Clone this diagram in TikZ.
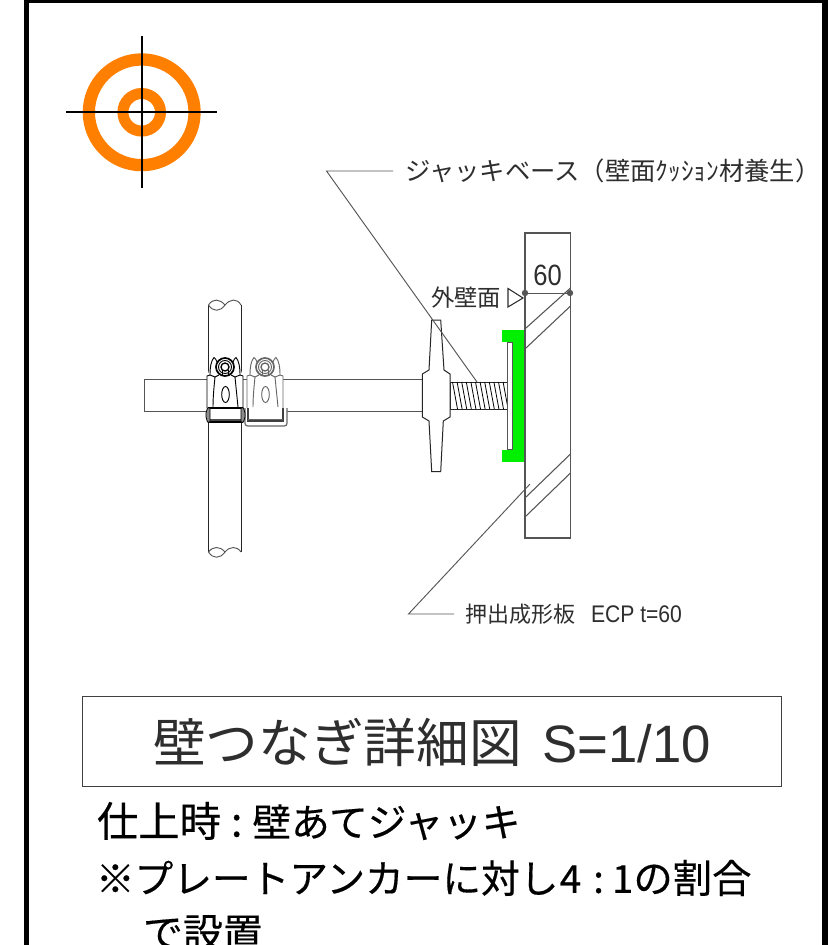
\documentclass[tikz,border=0pt]{standalone}
\usepackage{fontspec}
\setmainfont{Liberation Sans}
\newfontfamily\jpfont{Noto Sans CJK JP}
\newfontfamily\jpnote[FakeBold=0.35]{Noto Sans CJK JP}
\newcommand{\pxf}[1]{\fontsize{#1}{#1}\selectfont}
\definecolor{inkgray}{HTML}{2E2E2E}
\definecolor{linegray}{HTML}{555555}
\definecolor{ringorange}{HTML}{FF8000}
\definecolor{capgreen}{HTML}{00F000}
\tikzset{
  lbl/.style={inner sep=0pt,outer sep=0pt,anchor=west,text=inkgray,transform shape},
  thin line/.style={draw=linegray,line width=.7pt},
  body line/.style={draw=black!85,line width=.75pt},
  wall line/.style={draw=linegray,line width=.8pt},
  clampa/.pic={
    \path[fill=white] (-18,10) -- (-18,41) -- (18,41) -- (18,10) -- (12,-9) -- (-12,-9) -- cycle;
    \draw[#1] (-18,41) -- (-18,9) -- (-15,8) .. controls (-15,0) and (-14,-6) .. (-11,-9.5) .. controls (-9.5,-9) and (-9,-7) .. (-8,-5);
    \draw[#1] (18,41) -- (18,9) -- (15,8) .. controls (15,0) and (14,-6) .. (11,-9.5) .. controls (9.5,-9) and (9,-7) .. (8,-5);
    \draw[#1] (-10,10) .. controls (-11,20) and (-12,30) .. (-12,40);
    \draw[#1] (10,10) .. controls (11,20) and (12,30) .. (13,40);
    \draw[#1] (-15,8) -- (-10,10) -- (-6,8) (15,8) -- (10,10) -- (6,8);
    \draw[#1,line width=1.3pt] (0,0) circle (9);
    \draw[#1] (0,0) circle (6.5);
    \draw[#1,line width=1pt] (0,0) circle (4);
    \draw[#1] (-3,3) -- (-3,9) (3,3) -- (3,9);
    \draw[#1] (0.5,27.5) ellipse (3.8 and 8);
  }
}
\begin{document}
\begin{tikzpicture}[x=.75pt,y=-.75pt]
\useasboundingbox (0,0) rectangle (828,945);
\fill[white] (0,0) rectangle (828,945);
% outer frame
\fill[black] (24,0) rectangle (29,945);
\fill[black] (822,0) rectangle (828,945);
\fill[black] (24,0) rectangle (828,3);
% target
\draw[ringorange,line width=9.2pt] (141.7,112.3) circle (52.85);
\draw[ringorange,line width=8.25pt] (141.7,112.3) circle (18.8);
\draw[black,line width=1.5pt] (66,112.3) -- (217,112.3);
\draw[black,line width=1.5pt] (141.7,36) -- (141.7,188);
% vertical pipe
\draw[body line] (208.5,305) -- (208.5,552);
\draw[body line] (241,305) -- (241,552);
\draw[thin line] (208.5,305) .. controls (213,298) and (220,299) .. (225,305) .. controls (230,299) and (237,298) .. (241,305);
\draw[thin line] (208.5,305) .. controls (213,312) and (220,312) .. (225,305);
\draw[thin line] (208.5,552) .. controls (213,546) and (220,546) .. (225,552) .. controls (230,546) and (237,546) .. (241,552);
\draw[thin line] (208.5,552) .. controls (213,559) and (220,559) .. (225,552);
% horizontal pipe
\draw[wall line] (422,379.5) -- (144.3,379.5) -- (144.3,411.7) -- (422,411.7);
% clamps
\pic at (225,367) {clampa={draw=black,line width=.7pt}};
\pic at (265,367) {clampa={draw=black!60,line width=.7pt}};
\draw[black!60,line width=.9pt,rounded corners=2pt,fill=white] (245,408) -- (245,426) -- (287,426) -- (287,408);
\draw[black!75,line width=.9pt,fill=white] (248,408) -- (248,421) -- (283,421) -- (283,408);
\draw[black!60,line width=1.1pt] (248,419.5) -- (283,419.5);
\draw[black,line width=.8pt,fill=white] (209,408) rectangle (242,422);
\draw[black!70,line width=1.1pt] (209,420) -- (242,420);
\draw[black,line width=.6pt,fill=black!45] (206,413) -- (207.5,408) -- (210,408) -- (210,422) -- (207.5,422) -- (206,417) -- cycle;
\draw[black,line width=.6pt,fill=black!45] (245,413) -- (243.5,408) -- (241,408) -- (241,422) -- (243.5,422) -- (245,417) -- cycle;
% screw
\draw[body line,fill=white] (450,382) rectangle (507,409);
\foreach \i in {0,...,11}{
  \draw[black,line width=.6pt] ({452.5+\i*4.6},382) -- ({457.5+\i*4.6},409);
}
% jack base plate
\fill[capgreen] (501.7,330) rectangle (524.5,341.5);
\fill[capgreen] (501.7,450) rectangle (524.5,461.5);
\fill[capgreen] (512.3,330) rectangle (524.5,461.5);
\draw[linegray,line width=.6pt,fill=white] (507.4,342.7) rectangle (512.3,449.3);
% jack handle
\draw[body line,fill=white] (431.7,320) -- (440.7,320) -- (444,370) -- (450,374) -- (450,417) -- (443.3,421) -- (440.7,471.7) -- (431.7,471.7) -- (429,421) -- (422.3,417) -- (422.3,374) -- (429,370) -- cycle;
% wall
\draw[wall line] (525,233) rectangle (570.5,538);
\draw[linegray,line width=1.5pt] (525,275) -- (525,505);
\draw[wall line] (526,328) -- (570.5,288);
\draw[wall line] (526,348) -- (570.5,306);
\draw[wall line] (526,497) -- (570.5,454);
\draw[wall line] (526,516) -- (570.5,473);
% dimension
\node[lbl,anchor=center,xscale=.87] (dimsixty) at (547.5,275) {\pxf{22pt}60};
\coordinate (dimL) at (525,293);
\coordinate (dimR) at (570,293);
\draw[thin line] (dimL) -- (dimR);
\fill[linegray] (dimL) circle (3.2);
\fill[linegray] (dimR) circle (3.2);
\node[lbl] (outerface) at (431,298) {\jpfont\pxf{17.5pt}外壁面};
\draw[inkgray,line width=.8pt] (508,288.5) -- (508,307) -- (523,298) -- cycle;
% leaders
\node[lbl] (jacktext) at (405,171) {\jpfont\pxf{19pt}ジャッキベース（壁面ｸｯｼｮﾝ材養生）};
\coordinate (jackelbow) at (326.5,171);
\coordinate (jackstub) at (393,171);
\coordinate (jacktip) at (477,382);
\draw[thin line] (jackstub) -- (jackelbow) -- (jacktip);
\node[lbl] (ecptext) at (465,614) {\jpfont\pxf{16.5pt}押出成形板};
\node[lbl,xscale=.88] (ecpsize) at (591,614) {\pxf{18pt}ECP t=60};
\coordinate (ecpelbow) at (408.5,614);
\coordinate (ecpstub) at (454,614);
\coordinate (ecptip) at (530,484);
\draw[thin line] (ecpstub) -- (ecpelbow) -- (ecptip);
% title
\draw[black!75,line width=.6pt] (82,696) rectangle (781,786);
\node[lbl] (title) at (153,742) {\jpfont\pxf{39.5pt}壁つなぎ詳細図\hspace{15.5pt}\rmfamily S=1/10};
% notes
\node[lbl,text=black] (noteone) at (97,821) {\jpnote\pxf{31pt}仕上時\hspace{7.5pt}:\hspace{7.5pt}\pxf{29pt}壁あてジャッキ};
\node[lbl,text=black] (notetwo) at (96,878) {\jpnote\pxf{29pt}※プレートアンカーに対し\hspace{1pt}4\hspace{9pt}:\hspace{6pt}1\pxf{29.5pt}の割合};
\node[lbl,text=black] (notethree) at (143,933) {\jpnote\pxf{30pt}で設置};
\end{tikzpicture}
\end{document}
